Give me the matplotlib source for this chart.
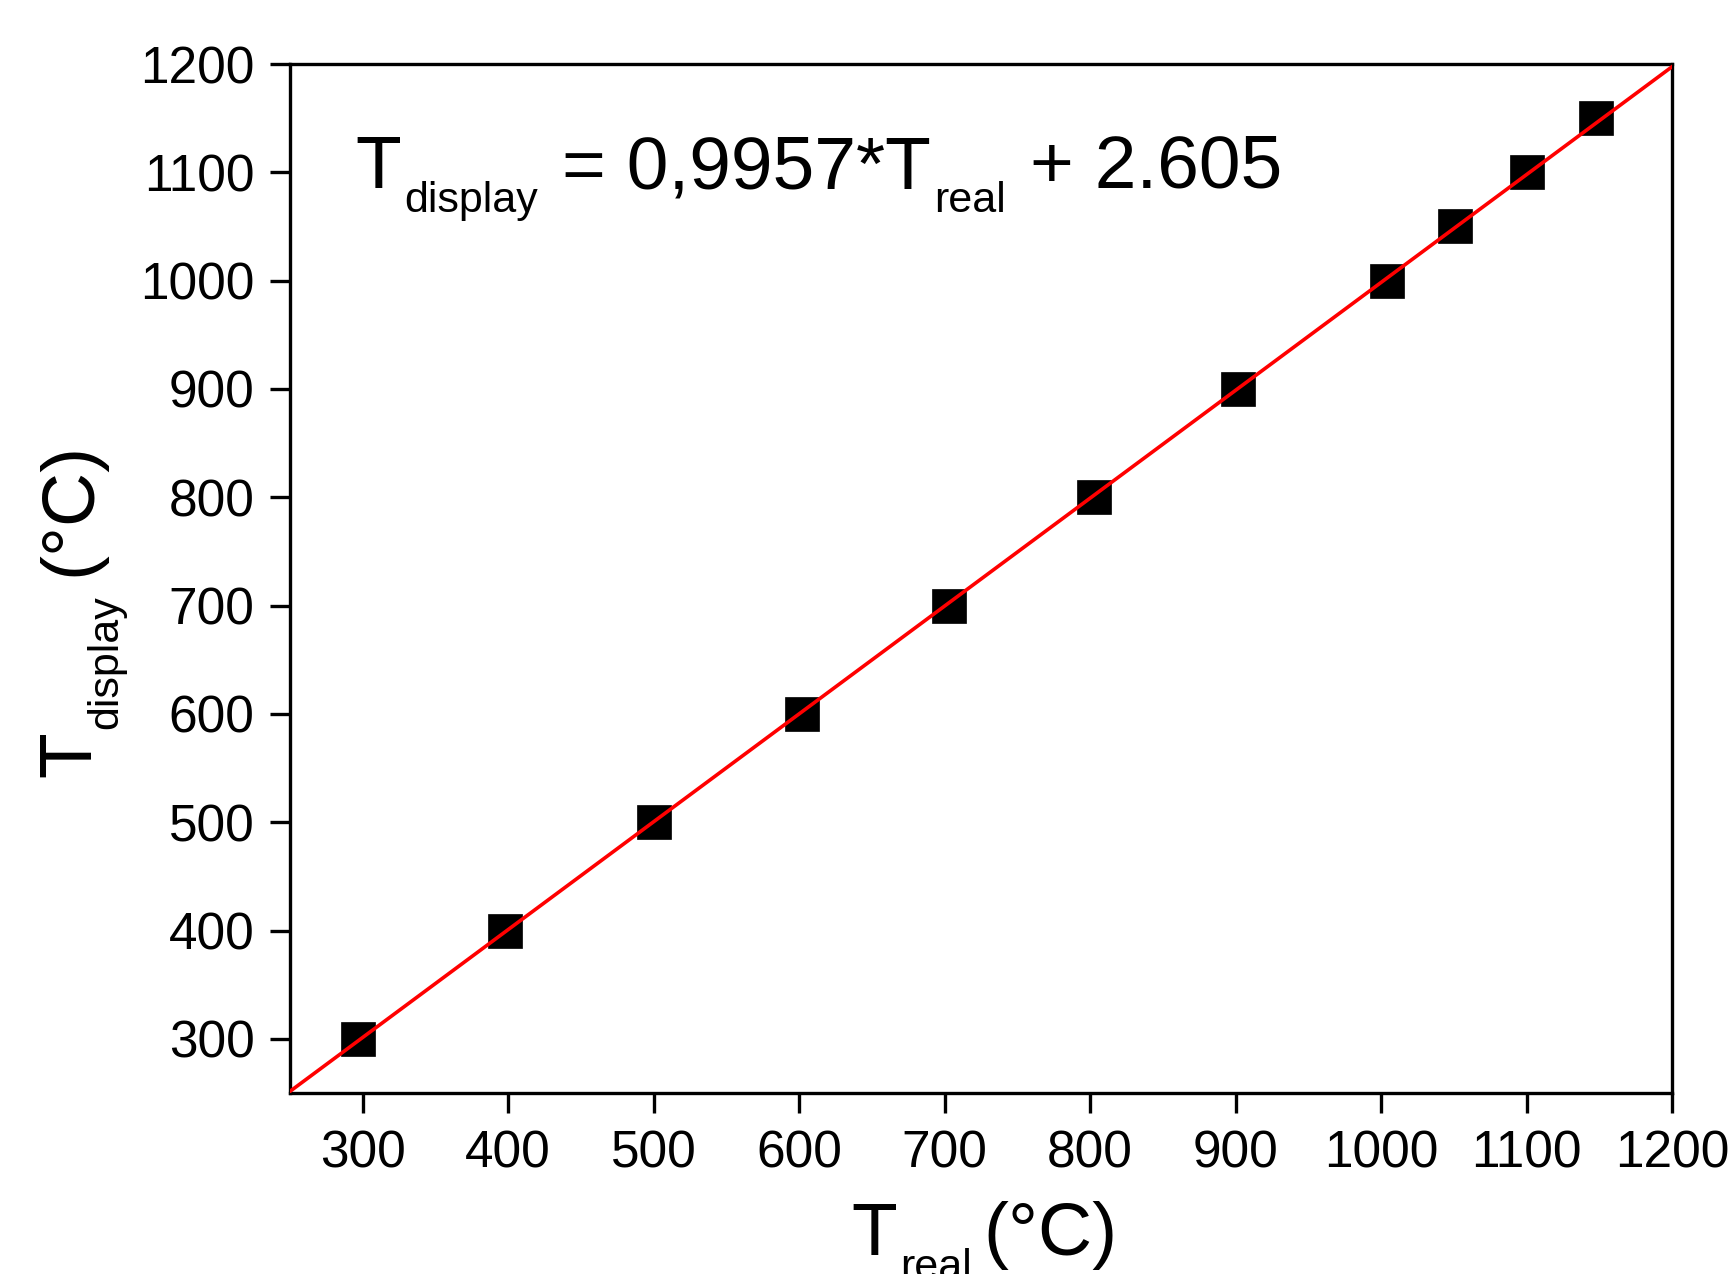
import matplotlib
matplotlib.use('Agg')
import matplotlib.pyplot as plt
import numpy as np

plt.rcParams['font.family'] = ['Liberation Sans', 'DejaVu Sans']

# measured points
t_real = [297, 398, 500, 602, 703, 803, 902, 1004, 1051, 1100, 1148]
t_display = [300, 400, 500, 600, 700, 800, 900, 1000, 1050, 1100, 1150]

# linear fit shown on the chart
slope = 0.9957
intercept = 2.605

W, H = 1734, 1274
fig = plt.figure(figsize=(W / 100, H / 100), dpi=100)
ax = fig.add_axes([290 / W, 1 - 1093 / H, 1382 / W, 1029 / H])

ax.plot(t_real, t_display, 's', color='black', markersize=24, markeredgewidth=0.5, zorder=2)
x_fit = np.array([250, 1200])
ax.plot(x_fit, slope * x_fit + intercept, color='red', linewidth=2.6, zorder=3)

ax.set_xlim(250, 1200)
ax.set_ylim(250, 1200)
ax.set_xticks(range(300, 1201, 100))
ax.set_yticks(range(300, 1201, 100))

for s in ax.spines.values():
    s.set_linewidth(2.4)
ax.tick_params(direction='out', length=14.4, width=2.4, labelsize=37, pad=11,
               top=False, right=False)
ax.tick_params(axis='x', pad=12)


def chain_text(x0, y0, pieces, rotation=0):
    # pieces: (text, fontsize, subscript drop px, gap px); x0/y0 in image pixels from top-left
    prev = None
    yb = H - y0
    for txt, size, drop, gap in pieces:
        kw = dict(fontsize=size, ha='left', va='baseline', textcoords='offset pixels',
                  annotation_clip=False)
        if rotation == 0:
            if prev is None:
                xy, xyc = (x0, yb - drop), 'figure pixels'
            else:
                xy, xyc = (1, yb - drop), (prev, 'figure pixels')
            prev = ax.annotate(txt, xy=xy, xycoords=xyc, xytext=(gap, 0), **kw)
        else:
            if prev is None:
                xy, xyc = (x0 + drop, yb), 'figure pixels'
            else:
                xy, xyc = (x0 + drop, 1), ('figure pixels', prev)
            prev = ax.annotate(txt, xy=xy, xycoords=xyc, xytext=(0, gap),
                               rotation=90, rotation_mode='anchor', **kw)


# fit equation
chain_text(355, 188, [('T', 54, 0, 0), ('display', 31, 24, 4),
                      ('= 0,9957*T', 54, 0, 24), ('real', 31, 24, 3),
                      ('+ 2.605', 54, 0, 24)])

# x label
chain_text(851, 1255, [('T', 54, 0, 0), ('real', 31, 24, 3), ('(°C)', 54, 0, 12)])

# y label
chain_text(90, 777, [('T', 54, 0, 0), ('display', 31, 27, 2), ('(°C)', 54, 0, 20)],
           rotation=90)

fig.savefig('out.png', dpi=100)
